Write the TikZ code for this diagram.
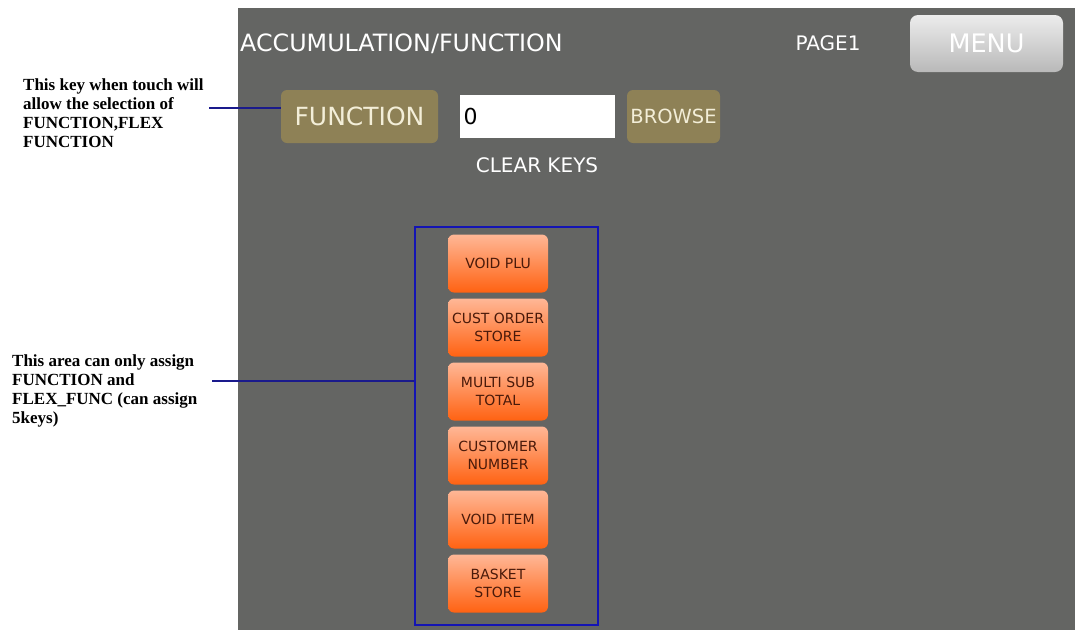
\documentclass[tikz,border=0pt]{standalone}
\usepackage{fontspec}
\setmainfont{Liberation Serif}
\newfontfamily\uifont{DejaVu Sans}
\usetikzlibrary{positioning}

\definecolor{panelgray}{HTML}{646563}
\definecolor{olivekey}{HTML}{8E8156}
\definecolor{olivetext}{HTML}{F3EED8}
\definecolor{keyorange}{HTML}{FF6212}
\definecolor{keyorangelight}{HTML}{FFB796}
\definecolor{keytext}{HTML}{4A1A0A}
\definecolor{areablue}{HTML}{1414B4}
\definecolor{leadblue}{HTML}{1A1A8C}

\tikzset{
	uitext/.style={text=white, font=\uifont\fontsize{23.8}{26}\selectfont, inner sep=0pt},
	olivebtn/.style={fill=olivekey, rounded corners=6pt, text=olivetext, inner sep=0pt},
	inputbox/.style={fill=white, inner sep=0pt, text width=155pt, align=left,
		font=\uifont\fontsize{22}{26}\selectfont},
	menubtn/.style={rounded corners=8pt, top color=white!85!gray, middle color=white!52!gray,
		bottom color=white!45!gray, text=white, inner sep=0pt,
		minimum width=153pt, minimum height=57pt, font=\uifont\fontsize{25.5}{30}\selectfont},
	orangekey/.style={rounded corners=6pt, top color=keyorangelight, middle color=keyorange,
		bottom color=keyorange, text=keytext, align=center, inner sep=0pt,
		minimum width=100pt, minimum height=58pt, font=\uifont\fontsize{14}{18}\selectfont},
	assignarea/.style={draw=areablue, line width=1.6pt, inner sep=0pt},
	note/.style={font=\bfseries\fontsize{17}{19}\selectfont, align=left, inner sep=0pt,
		anchor=north west},
	leader/.style={draw=leadblue, line width=1.3pt}
}

\begin{document}
\begin{tikzpicture}[x=1pt,y=-1pt]
	\useasboundingbox (0,0) rectangle (1075,630);
	\fill[panelgray] (238,8) rectangle (1075,630);

	\node[uitext, anchor=base west] (title) at (240,51) {ACCUMULATION/FUNCTION};
	\node[uitext, anchor=base, font=\uifont\fontsize{20}{22}\selectfont] (page) at (828,50) {PAGE1};
	\node[menubtn] (menu) at (986.5,43.5) {MENU};

	\node[olivebtn, minimum width=157pt, minimum height=53pt,
		font=\uifont\fontsize{25}{28}\selectfont] (function) at (359.5,116.5) {FUNCTION};
	\node[inputbox, minimum height=43pt] (value) at (537.5,116.5) {\,0};
	\node[olivebtn, minimum width=93pt, minimum height=53pt,
		font=\uifont\fontsize{19.5}{24}\selectfont] (browse) at (673.5,116.5) {BROWSE};
	\node[uitext, font=\uifont\fontsize{20}{22}\selectfont] (clear) at (537,165) {CLEAR KEYS};

	\node[assignarea, minimum width=183pt, minimum height=398pt] (area) at (506.5,426) {};
	\foreach \txt [count=\i] in {VOID PLU, {CUST ORDER\\STORE}, {MULTI SUB\\TOTAL},
		{CUSTOMER\\NUMBER}, VOID ITEM, {BASKET\\STORE}}
		\node[orangekey] (key\i) at (498,263.5+64*\i-64) {\txt};

	\node[note] (note1) at (23,78) {This key when touch will\\allow the selection of\\FUNCTION,FLEX\\FUNCTION};
	\node[note] (note2) at (12,354) {This area can only assign\\FUNCTION and\\FLEX\_FUNC (can assign\\5keys)};

	\coordinate (lead1) at (209,108);
	\coordinate (lead2) at (212,381);
	\draw[leader] (lead1) -- (lead1 -| function.west);
	\draw[leader] (lead2) -- (lead2 -| area.west);
\end{tikzpicture}
\end{document}
